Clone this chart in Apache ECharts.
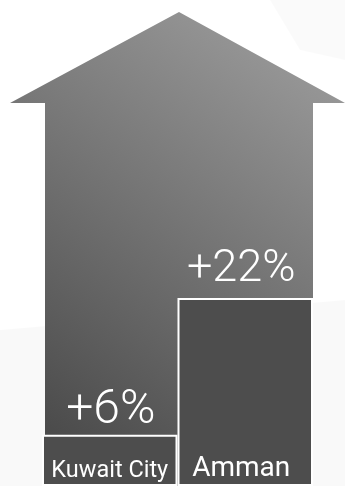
<!DOCTYPE html>
<html>
<head>
<meta charset="utf-8">
<script src="https://cdn.jsdelivr.net/npm/echarts@6/dist/echarts.min.js"></script>
<style>
html, body { margin: 0; padding: 0; background: #fff; }
#chart { width: 345px; height: 486px; }
</style>
</head>
<body>
<div id="chart"></div>
<script>
// data
const cities = ['Kuwait City', 'Amman'];
const growth = [6, 22];

let myChart = echarts.init(document.getElementById('chart'));

myChart.setOption({
    backgroundColor: '#ffffff',
    animation: false,
    graphic: [
        // faint background shapes
        {
            type: 'polygon', z: -20,
            shape: { points: [[0, 330], [345, 300], [345, 486], [0, 486]] },
            style: { fill: 'rgba(0,0,0,0.025)' }
        },
        {
            type: 'polygon', z: -20,
            shape: { points: [[270, 0], [345, 0], [345, 60], [300, 50]] },
            style: { fill: 'rgba(0,0,0,0.02)' }
        },
        // the big arrow
        {
            type: 'polygon', z: -10,
            shape: {
                points: [[179, 12], [345, 103], [313, 103], [313, 486],
                         [45, 486], [45, 103], [10, 103]]
            },
            style: {
                fill: new echarts.graphic.LinearGradient(0, 1, 1, 0, [
                    { offset: 0, color: '#404040' },
                    { offset: 1, color: '#a2a2a2' }
                ])
            }
        }
    ],
    grid: { left: 42, right: 32, top: 12, bottom: 0 },
    xAxis: {
        type: 'category',
        data: cities,
        axisLine: { show: false },
        axisTick: { show: false },
        axisLabel: {
            inside: true,
            margin: 3,
            color: '#ffffff',
            fontFamily: 'Roboto',
            verticalAlign: 'bottom',
            formatter: (v, i) => i === 0 ? '{s|' + v + '}' : '{l|' + v + '}',
            rich: {
                s: { fontSize: 23.5, color: '#ffffff', fontFamily: 'Roboto' },
                l: { fontSize: 28, color: '#ffffff', fontFamily: 'Roboto', padding: [0, 8, 0, 0] }
            }
        },
        z: 10
    },
    yAxis: {
        type: 'value',
        min: 0,
        max: 55.5,
        show: false
    },
    series: [
        {
            type: 'bar',
            data: growth,
            barCategoryGap: 0,
            itemStyle: {
                color: '#4d4d4d',
                borderColor: '#ffffff',
                borderWidth: 2
            },
            label: {
                show: true,
                position: 'top',
                distance: 0,
                color: '#ffffff',
                fontFamily: 'Roboto',
                formatter: p => p.dataIndex === 0
                    ? '{s|+' + p.value + '%}'
                    : '{l|+' + p.value + '%}',
                rich: {
                    s: { fontSize: 48, fontWeight: 300, color: '#ffffff', fontFamily: 'Roboto', padding: [0, 0, 0, 2] },
                    l: { fontSize: 45, fontWeight: 300, color: '#ffffff', fontFamily: 'Roboto', padding: [0, 8, 6, 0] }
                }
            }
        }
    ]
});
</script>
</body>
</html>
